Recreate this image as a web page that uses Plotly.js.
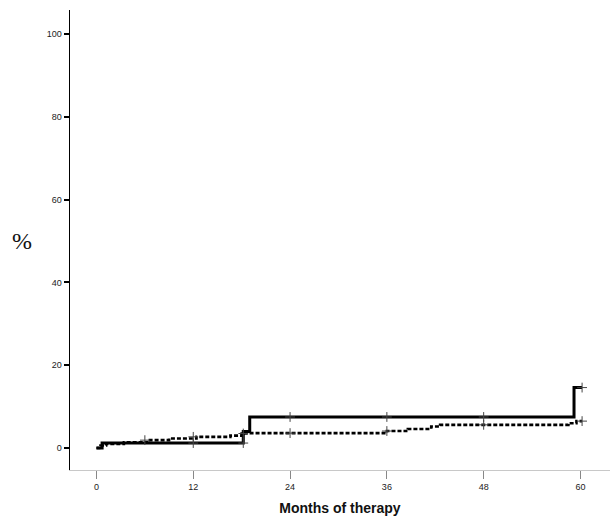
<!DOCTYPE html>
<html>
<head>
<meta charset="utf-8">
<script src="https://cdn.plot.ly/plotly-3.0.1.min.js"></script>
<style>html,body{margin:0;padding:0;background:#fff}#chart{width:616px;height:521px}</style>
</head>
<body>
<div id="chart"></div>
<script>
// Solid curve (group A)
const solidMonths = [0, 0.7, 18.2, 19.0, 59.2, 60.2];
const solidPct    = [0, 1.2, 4.0, 7.5, 14.6, 14.6];
const solidCensorMonths = [12, 18.2, 24, 36, 48, 60.2];
const solidCensorPct    = [1.2, 1.2, 7.5, 7.5, 7.5, 14.6];

// Dashed curve (group B)
const dashMonths = [0, 0.5, 1.2, 3.4, 6.4, 9.0, 12.4, 16.6, 18.0, 18.6, 36.0, 38.6, 41.5, 42.6, 58.5, 59.5, 60.2];
const dashPct    = [0, 0.6, 1.0, 1.4, 1.9, 2.3, 2.7, 3.0, 3.5, 3.6, 4.1, 4.6, 5.2, 5.6, 6.0, 6.5, 6.5];
const dashCensorMonths = [6, 12, 18.2, 24, 36, 48, 60.2];
const dashCensorPct    = [1.9, 2.7, 3.5, 3.6, 4.1, 5.6, 6.5];

const xTicks = [0, 12, 24, 36, 48, 60];
const yTicks = [0, 20, 40, 60, 80, 100];

const traces = [
  {x: dashMonths, y: dashPct, mode: 'lines', line: {shape: 'hv', color: '#000', width: 2.6, dash: '4px,2px'}, hoverinfo: 'skip'},
  {x: solidMonths, y: solidPct, mode: 'lines', line: {shape: 'hv', color: '#000', width: 3}, hoverinfo: 'skip'},
  {x: dashCensorMonths, y: dashCensorPct, mode: 'markers', marker: {symbol: 'cross-thin-open', size: 7, color: '#444', line: {width: 1, color: '#444'}}, hoverinfo: 'skip'},
  {x: solidCensorMonths, y: solidCensorPct, mode: 'markers', marker: {symbol: 'cross-thin-open', size: 7, color: '#444', line: {width: 1, color: '#444'}}, hoverinfo: 'skip'}
];

const layout = {
  width: 616, height: 521,
  margin: {l: 70, r: 6, t: 10, b: 51},
  paper_bgcolor: '#fff', plot_bgcolor: '#fff',
  showlegend: false,
  font: {family: 'Liberation Sans, Arial, sans-serif', color: '#222'},
  xaxis: {
    range: [-3.28, 63.66], tickvals: xTicks, ticktext: xTicks.map(String),
    showgrid: false, zeroline: false,
    showline: true, linecolor: '#c8c8c8', linewidth: 1,
    ticks: 'outside', ticklen: 8, tickwidth: 1, tickcolor: '#888',
    tickfont: {size: 9, color: '#222'},
    title: {text: 'Months of therapy', font: {size: 14, color: '#111', family: 'Liberation Sans, Arial, sans-serif', weight: 'bold'}, standoff: 12}
  },
  yaxis: {
    range: [-5.31, 105.8], tickvals: yTicks, ticktext: yTicks.map(String),
    showgrid: false, zeroline: false,
    showline: true, linecolor: '#000', linewidth: 1.5,
    ticks: 'outside', ticklen: 5, tickwidth: 2, tickcolor: '#000',
    tickfont: {size: 9, color: '#222'}
  },
  annotations: [{
    text: '%', xref: 'paper', yref: 'paper', x: -0.088, y: 0.497, xanchor: 'center', yanchor: 'middle',
    showarrow: false, font: {family: 'Liberation Serif, Times New Roman, serif', size: 24, color: '#111'}
  }]
};

Plotly.newPlot('chart', traces, layout, {staticPlot: true, displayModeBar: false});
</script>
</body>
</html>
